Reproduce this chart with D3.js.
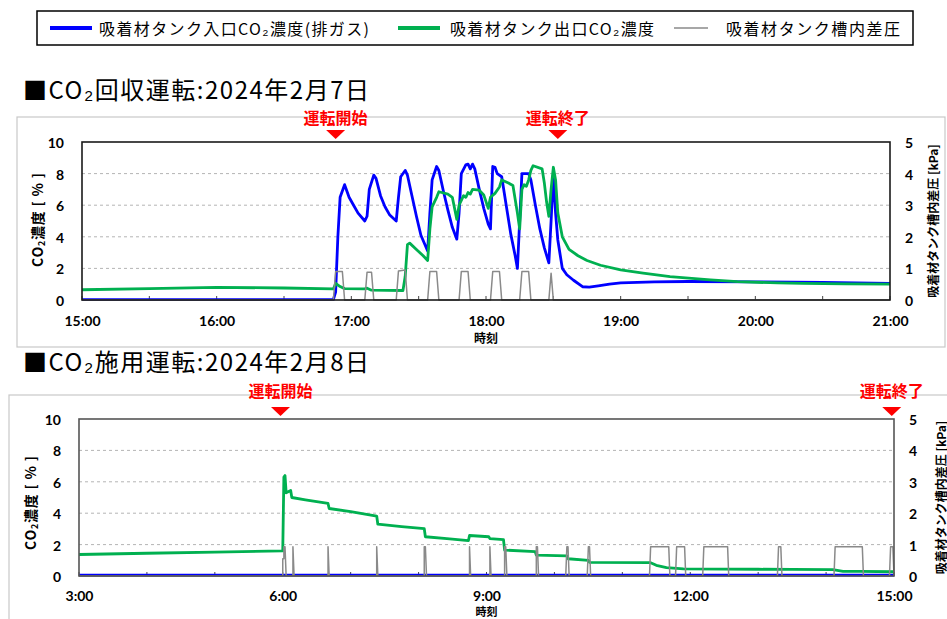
<!DOCTYPE html>
<html>
<head>
<meta charset="utf-8">
<script src="https://cdn.jsdelivr.net/npm/d3@7"></script>
<style>
body { margin: 0; background: #fff; }
svg { display: block; font-family: "Noto Sans CJK JP", sans-serif; }
.num { font-family: Lato, "Liberation Sans", sans-serif; font-weight: bold; font-size: 14px; fill: #000; }
</style>
</head>
<body>
<svg id="chart" width="947" height="619"></svg>
<script>
"use strict"

//
// data
//
var legendLabels = ["吸着材タンク入口CO₂濃度(排ガス)", "吸着材タンク出口CO₂濃度", "吸着材タンク槽内差圧"];
var legendColors = ["#0000ff", "#00b050", "#8a8a8a"];

var recTitle = "■CO₂回収運転:2024年2月7日";
var appTitle = "■CO₂施用運転:2024年2月8日";

var leftTicks  = [0, 2, 4, 6, 8, 10];
var rightTicks = [0, 1, 2, 3, 4, 5];
var gridTicks  = [2, 4, 6, 8];

var recMarks = [["16:53", "運転開始"], ["18:32", "運転終了"]];
var appMarks = [["05:58", "運転開始"], ["14:58", "運転終了"]];

// 2/7 CO2 recovery : inlet CO2 [%]
var recInlet = [
	["15:00",0.03],["16:52",0.03],["16:53",0.5],["16:54",4.0],["16:55",6.5],["16:57",7.3],["16:59",6.5],
	["17:01",6.0],["17:03",5.5],["17:06",5.0],["17:07",5.3],["17:08",7.0],["17:10",7.9],["17:11",7.7],
	["17:13",6.6],["17:15",5.9],["17:17",5.4],["17:20",5.0],["17:21",6.5],["17:22",7.8],["17:24",8.2],
	["17:25",7.9],["17:27",6.6],["17:29",5.3],["17:31",4.1],["17:34",3.1],["17:35",5.5],["17:36",7.6],
	["17:38",8.45],["17:39",8.2],["17:41",6.9],["17:43",5.7],["17:45",4.6],["17:47",3.85],["17:48",5.5],
	["17:49",8.0],["17:51",8.55],["17:52",8.6],["17:53",8.3],["17:54",8.6],["17:55",8.3],["17:57",7.0],
	["17:59",5.8],["18:01",4.8],["18:02",4.5],["18:03",8.45],["18:04",8.4],["18:05",8.0],["18:07",7.8],
	["18:09",6.0],["18:11",4.2],["18:13",2.8],["18:14",2.0],["18:15",5.0],["18:16",8.0],["18:19",8.0],
	["18:20",7.6],["18:22",6.0],["18:24",4.5],["18:26",3.3],["18:28",2.35],["18:29",5.0],["18:30",7.9],
	["18:31",5.5],["18:32",3.8],["18:34",2.0],["18:36",1.6],["18:39",1.25],["18:43",0.84],["18:46",0.82],
	["18:50",0.9],["18:55",1.0],["19:00",1.08],["19:15",1.15],["19:30",1.17],["20:00",1.15],["20:30",1.12],
	["21:00",1.05]
];
// 2/7 CO2 recovery : outlet CO2 [%]
var recOutlet = [
	["15:00",0.65],["15:30",0.72],["16:00",0.8],["16:30",0.76],["16:52",0.7],["16:53",1.05],["16:55",0.85],
	["16:57",0.72],["17:06",0.7],["17:07",0.75],["17:09",0.62],["17:23",0.6],["17:24",1.5],["17:25",3.5],
	["17:26",3.6],["17:29",3.2],["17:32",2.8],["17:34",2.5],["17:35",4.5],["17:36",5.9],["17:38",6.5],
	["17:39",6.85],["17:43",6.7],["17:45",6.5],["17:47",5.1],["17:48",6.0],["17:50",6.6],["17:51",6.5],
	["17:52",6.8],["17:53",6.7],["17:54",7.0],["17:57",6.95],["17:59",6.65],["18:01",5.8],["18:02",6.5],
	["18:04",6.75],["18:06",7.15],["18:07",7.6],["18:10",7.4],["18:12",7.25],["18:14",5.5],["18:15",4.5],
	["18:16",7.0],["18:17",7.3],["18:18",7.2],["18:19",7.6],["18:20",8.2],["18:21",8.5],["18:25",8.3],
	["18:26",7.4],["18:27",6.2],["18:28",5.3],["18:29",7.0],["18:30",8.4],["18:31",7.6],["18:32",5.5],
	["18:34",4.0],["18:37",3.2],["18:41",2.8],["18:45",2.5],["18:51",2.2],["19:00",1.9],["19:10",1.7],
	["19:22",1.48],["19:40",1.28],["19:52",1.16],["20:10",1.08],["20:21",1.05],["20:40",1.02],["21:00",1.0]
];
// 2/7 CO2 recovery : tank pressure difference [kPa]
var recPress = [
	["15:00",0],["16:52",0],["16:53",0.9],["16:56",0.9],["16:57",0],
	["17:06",0],["17:07",0.88],["17:09",0.88],["17:10",0],
	["17:20",0],["17:21",0.92],["17:24",0.95],["17:25",0],
	["17:34",0],["17:35",0.9],["17:38",0.9],["17:39",0],
	["17:48",0],["17:49",0.9],["17:52",0.9],["17:53",0],
	["18:02",0],["18:03",0.9],["18:06",0.9],["18:07",0],
	["18:15",0],["18:16",0.9],["18:19",0.9],["18:20",0],
	["18:28",0],["18:29",0.85],["18:30",0],["21:00",0]
];

// 2/8 CO2 application : inlet CO2 [%]
var appInlet = [
	["03:00",0.06],["06:00",0.06],["09:00",0.06],["12:00",0.05],["15:00",0.05]
];
// 2/8 CO2 application : outlet CO2 [%]
var appOutlet = [
	["03:00",1.37],["04:00",1.45],["05:00",1.52],["06:00",1.6],["06:01",6.3],["06:02",6.4],["06:03",5.3],
	["06:07",5.45],["06:08",5.0],["06:20",4.85],["06:40",4.62],["06:41",4.3],["07:00",4.1],["07:23",3.82],
	["07:24",3.3],["07:45",3.15],["08:05",3.02],["08:06",2.5],["08:25",2.38],["08:44",2.25],["08:45",2.58],
	["09:02",2.5],["09:03",2.38],["09:15",2.32],["09:16",1.65],["09:43",1.55],["09:44",1.33],["10:11",1.28],
	["10:12",1.1],["10:30",1.0],["10:31",0.87],["11:25",0.85],["11:30",0.68],["11:39",0.53],["11:54",0.45],
	["12:30",0.44],["13:00",0.43],["13:30",0.42],["14:06",0.41],["14:15",0.3],["14:30",0.3],["15:00",0.27]
];
// 2/8 CO2 application : tank pressure difference [kPa]
var appPress = [
	["03:00",0],["06:00",0],["06:00",0.55],["06:01",0.55],["06:01",0.93],["06:02",0.93],["06:03",0],
	["06:09",0],["06:09",0.93],["06:10",0],["06:40",0],["06:40",0.93],["06:41",0],
	["07:23",0],["07:23",0.93],["07:24",0],["08:05",0],["08:05",0.93],["08:06",0.93],["08:07",0],
	["08:45",0],["08:45",0.93],["08:46",0],["09:03",0],["09:03",0.93],["09:04",0],
	["09:16",0],["09:16",0.93],["09:17",0.93],["09:18",0],["09:44",0],["09:44",0.93],["09:45",0.93],["09:46",0],
	["10:10",0],["10:11",0.93],["10:12",0.93],["10:13",0],["10:29",0],["10:30",0.93],["10:31",0.93],["10:32",0],
	["11:24",0],["11:25",0.93],["11:41",0.93],["11:42",0],["11:47",0],["11:48",0.93],["11:55",0.93],["11:56",0],
	["12:11",0],["12:12",0.93],["12:33",0.93],["12:34",0],["13:17",0],["13:18",0.93],["13:20",0.93],["13:21",0],
	["14:07",0],["14:08",0.93],["14:32",0.93],["14:33",0],["14:56",0],["14:57",0.93],["14:59",0.93],["15:00",0]
];

//
// layout
//
var svg = d3.select("#chart");
var parseTime = d3.timeParse("%H:%M");
var fmtTime = d3.timeFormat("%-H:%M");

var panels = [
	{ title: recTitle, titleY: 88, box: [17, 117, 928, 230], l: 82, r: 890, t: 142, b: 300,
	  domain: ["15:00", "21:00"], major: d3.timeHour.every(1), minor: d3.timeMinute.every(30),
	  inlet: recInlet, outlet: recOutlet, press: recPress, marks: recMarks, markY: 117,
	  frame: "#1a1a1a", leftTitleX: 37, leftTitleY: 220, rightTitleX: 932,
	  xLabelDy: 20, xTitleDy: 37.5, xTitleSize: 12 },
	{ title: appTitle, titleY: 360, box: [9, 395, 960, 240], l: 79, r: 894, t: 419, b: 576,
	  domain: ["03:00", "15:00"], major: d3.timeHour.every(3), minor: d3.timeHour.every(1),
	  inlet: appInlet, outlet: appOutlet, press: appPress, marks: appMarks, markY: 390,
	  frame: "#555555", leftTitleX: 30, leftTitleY: 503, rightTitleX: 940,
	  xLabelDy: 19, xTitleDy: 34.5, xTitleSize: 11 }
];

//
// legend
//
var legX = [50, 398, 674];
var legW = [42, 42, 34];
var legTextX = [99, 450, 726];
var legTextW = [270, 204, 174];
svg.append("rect")
	.attr("x", 37).attr("y", 11).attr("width", 876).attr("height", 34)
	.attr("fill", "#fff").attr("stroke", "#000").attr("stroke-width", 1.5)
	;
legendLabels.forEach(function(lab, i) {
	svg.append("line")
		.attr("x1", legX[i]).attr("x2", legX[i] + legW[i]).attr("y1", 28).attr("y2", 28)
		.attr("stroke", legendColors[i]).attr("stroke-width", i == 2 ? 1.5 : 4)
		;
	svg.append("text")
		.attr("x", legTextX[i]).attr("y", 28).attr("dominant-baseline", "central")
		.attr("font-size", 16).attr("textLength", legTextW[i]).attr("lengthAdjust", "spacing")
		.text(lab)
		;
});

//
// panels
//
panels.forEach(function(p) {
	svg.append("text")
		.attr("x", 23).attr("y", p.titleY).attr("dominant-baseline", "central")
		.attr("font-size", 24).attr("textLength", 346).attr("lengthAdjust", "spacing")
		.text(p.title)
		;
	svg.append("rect")
		.attr("x", p.box[0]).attr("y", p.box[1]).attr("width", p.box[2]).attr("height", p.box[3])
		.attr("fill", "none").attr("stroke", "#c8c8c8").attr("stroke-width", 1.2)
		;

	var x = d3.scaleTime().domain(p.domain.map(parseTime)).range([p.l, p.r]);
	var yL = d3.scaleLinear().domain([0, 10]).range([p.b, p.t]);
	var yR = d3.scaleLinear().domain([0, 5]).range([p.b, p.t]);
	var g = svg.append("g");

	// grid
	g.selectAll("line.grid").data(gridTicks).enter().append("line")
		.attr("class", "grid")
		.attr("x1", p.l).attr("x2", p.r)
		.attr("y1", function(d) { return yL(d); }).attr("y2", function(d) { return yL(d); })
		.attr("stroke", "#b4b4b4").attr("stroke-width", 1).attr("stroke-dasharray", "3,3")
		;
	// minor ticks along the bottom
	g.selectAll("line.minor").data(x.ticks(p.minor)).enter().append("line")
		.attr("class", "minor")
		.attr("x1", function(d) { return x(d); }).attr("x2", function(d) { return x(d); })
		.attr("y1", p.b).attr("y2", p.b - 4)
		.attr("stroke", "#444").attr("stroke-width", 1)
		;

	var lineL = d3.line()
		.x(function(d) { return x(parseTime(d[0])); })
		.y(function(d) { return yL(d[1]); })
		;
	var lineR = d3.line()
		.x(function(d) { return x(parseTime(d[0])); })
		.y(function(d) { return yR(d[1]); })
		;
	g.append("path").datum(p.inlet).attr("d", lineL)
		.attr("fill", "none").attr("stroke", legendColors[0]).attr("stroke-width", 2.8).attr("stroke-linejoin", "round")
		;
	g.append("path").datum(p.outlet).attr("d", lineL)
		.attr("fill", "none").attr("stroke", legendColors[1]).attr("stroke-width", 2.8).attr("stroke-linejoin", "round")
		;
	g.append("path").datum(p.press).attr("d", lineR)
		.attr("fill", "none").attr("stroke", legendColors[2]).attr("stroke-width", 1.5).attr("stroke-linejoin", "round")
		;

	// frame
	g.append("rect")
		.attr("x", p.l).attr("y", p.t).attr("width", p.r - p.l).attr("height", p.b - p.t)
		.attr("fill", "none").attr("stroke", p.frame).attr("stroke-width", 1.6)
		;

	// axes
	var ax = g.append("g").attr("transform", "translate(0," + p.b + ")")
		.call(d3.axisBottom(x).ticks(p.major).tickFormat(fmtTime).tickSize(0));
	var al = g.append("g").attr("transform", "translate(" + p.l + ",0)")
		.call(d3.axisLeft(yL).tickValues(leftTicks).tickSize(0).tickPadding(18));
	var ar = g.append("g").attr("transform", "translate(" + p.r + ",0)")
		.call(d3.axisRight(yR).tickValues(rightTicks).tickFormat(d3.format("d")).tickSize(0).tickPadding(15));
	[ax, al, ar].forEach(function(a) {
		a.select(".domain").remove();
		a.selectAll("text").attr("class", "num").attr("dy", null).attr("dominant-baseline", "central");
		a.attr("font-size", null).attr("font-family", null);
	});
	ax.selectAll("text").attr("y", p.xLabelDy);

	// axis titles
	svg.append("text")
		.attr("x", (p.l + p.r) / 2).attr("y", p.b + p.xTitleDy).attr("text-anchor", "middle")
		.attr("dominant-baseline", "central").attr("font-size", p.xTitleSize).attr("font-weight", "bold")
		.text("時刻")
		;
	var lt = svg.append("text")
		.attr("transform", "translate(" + p.leftTitleX + "," + p.leftTitleY + ") rotate(-90)")
		.attr("text-anchor", "middle").attr("dominant-baseline", "central")
		.attr("font-size", 14).attr("font-weight", "bold")
		.attr("textLength", 94).attr("lengthAdjust", "spacing")
		;
	lt.append("tspan").text("CO");
	lt.append("tspan").attr("font-size", 9).attr("dy", 4).text("2");
	lt.append("tspan").attr("dy", -4).text("濃度 [ % ]");
	svg.append("text")
		.attr("transform", "translate(" + p.rightTitleX + "," + ((p.t + p.b) / 2) + ") rotate(-90)")
		.attr("text-anchor", "middle").attr("dominant-baseline", "central")
		.attr("font-size", 12).attr("font-weight", "bold")
		.text("吸着材タンク槽内差圧 [kPa]")
		;

	// start / stop markers
	p.marks.forEach(function(m) {
		var mx = x(parseTime(m[0]));
		svg.append("text")
			.attr("x", mx).attr("y", p.markY).attr("text-anchor", "middle").attr("dominant-baseline", "central")
			.attr("font-size", 16).attr("font-weight", "bold").attr("fill", "#ff0000")
			.text(m[1])
			;
		svg.append("path")
			.attr("d", "M" + (mx - 9.5) + "," + (p.t - 12) + "L" + (mx + 9.5) + "," + (p.t - 12) + "L" + mx + "," + (p.t - 3) + "Z")
			.attr("fill", "#ff0000")
			;
	});
});
</script>
</body>
</html>
